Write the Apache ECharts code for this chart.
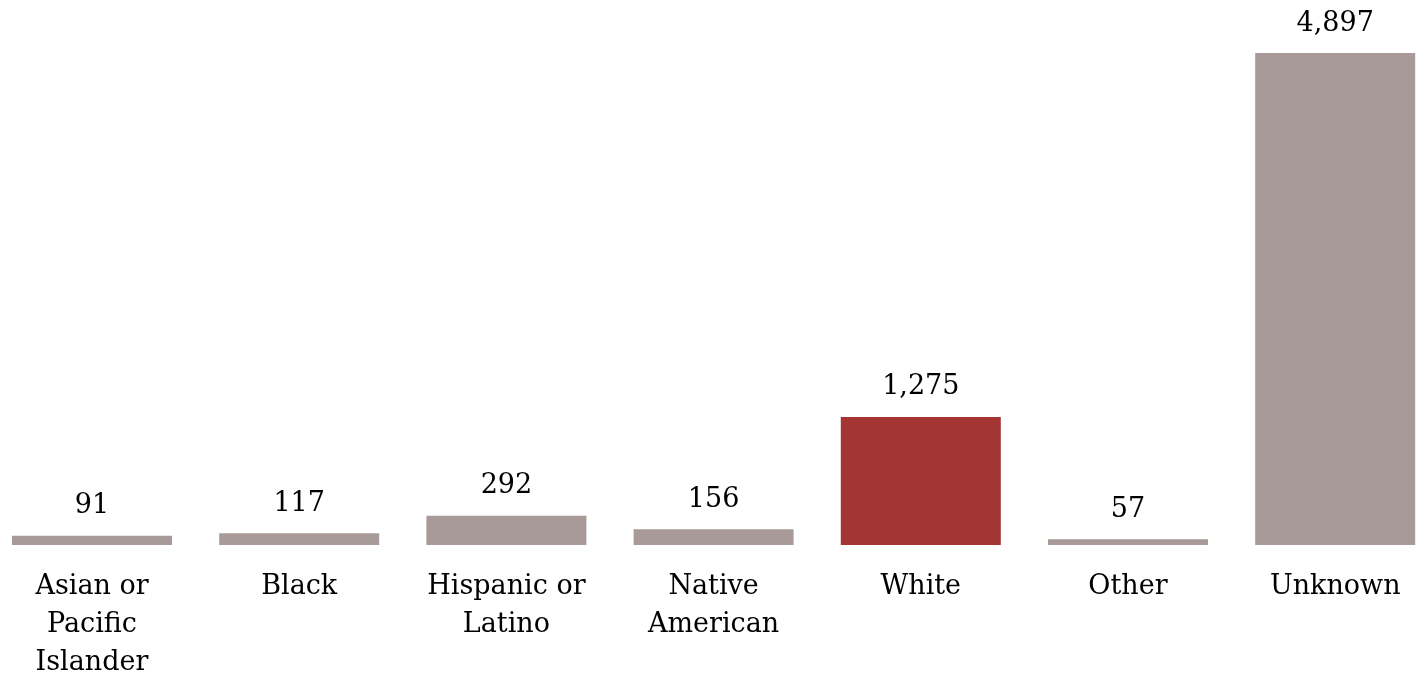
<!DOCTYPE html>
<html><head><meta charset="utf-8">
<script src="https://cdn.jsdelivr.net/npm/echarts@6/dist/echarts.min.js"></script>
<style>html,body{margin:0;padding:0;background:#fff}#c{width:1421px;height:677px}</style>
</head><body><div id="c"></div>
<script>
const categories = ["Asian or\nPacific\nIslander", "Black", "Hispanic or\nLatino", "Native\nAmerican", "White", "Other", "Unknown"];
const values = [91, 117, 292, 156, 1275, 57, 4897];
const highlight = "White";
const FONT = "DejaVu Serif";
const chart = echarts.init(document.getElementById('c'), null, {renderer: 'canvas'});
chart.setOption({
  animation: false,
  grid: {left: -11.6, right: -17.8, top: 53, bottom: 132, containLabel: false, outerBoundsMode: 'none'},
  xAxis: {
    type: 'category', data: categories,
    axisLine: {show: false}, axisTick: {show: false},
    axisLabel: {color: '#000', fontFamily: FONT, fontSize: 27, lineHeight: 38, margin: 23, interval: 0}
  },
  yAxis: {type: 'value', min: 0, max: 4897, show: false, splitLine: {show: false}},
  series: [{
    type: 'bar', barWidth: 160,
    data: values.map((v, i) => ({value: v, itemStyle: {color: categories[i] === highlight ? '#A33533' : '#A89A98'}})),
    label: {show: true, position: 'top', distance: 16, color: '#000', fontFamily: FONT, fontSize: 27,
      formatter: p => p.value.toLocaleString('en-US')}
  }]
});
</script></body></html>
